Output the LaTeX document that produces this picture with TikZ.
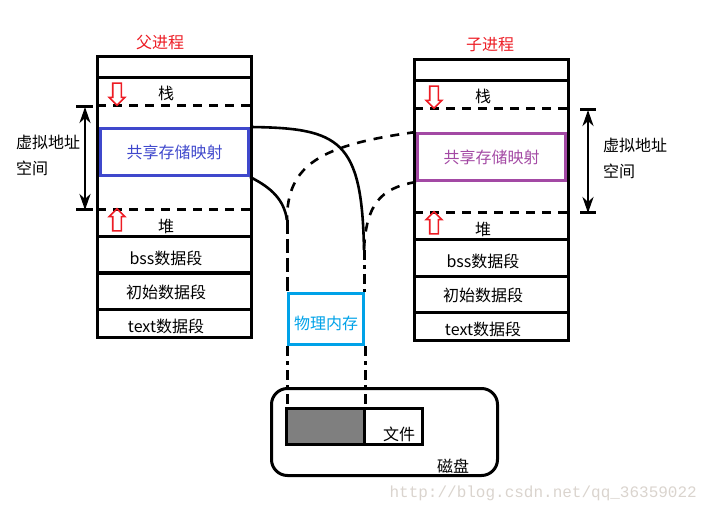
\documentclass[tikz,border=0pt]{standalone}
\usepackage{fontspec}
\setmainfont{Noto Sans CJK SC}
\newfontfamily\markfont{Liberation Mono}
\usetikzlibrary{arrows.meta,shapes.arrows}
\definecolor{shmblue}{RGB}{63,72,204}
\definecolor{shmpurple}{RGB}{163,73,164}
\definecolor{memcyan}{RGB}{0,162,232}
\definecolor{growred}{RGB}{237,28,36}
\definecolor{wmgray}{RGB}{218,212,206}
\definecolor{diskgray}{RGB}{127,127,127}

\begin{document}
\begin{tikzpicture}[x=1pt, y=-1pt, font=\fontsize{16}{19}\selectfont,
	seg/.style={line width=3pt},
	gapline/.style={line width=3pt, dash pattern=on 9pt off 7pt},
	maplink/.style={line width=2.6pt},
	dashlink/.style={line width=2.6pt, dash pattern=on 9pt off 8pt},
	longdash/.style={line width=3pt, dash pattern=on 14pt off 5pt},
	dashdot/.style={line width=3pt, dash pattern=on 10pt off 5pt on 4pt off 5pt},
	shm/.style={draw, line width=3pt, minimum width=148pt, minimum height=47pt, inner sep=0pt},
	growarrow/.style={single arrow, draw=growred, line width=1.6pt, inner sep=3.5pt, minimum height=22pt, single arrow head extend=3.5pt},
	spanarrow/.style={line width=2.5pt, {Stealth[length=16pt,width=11pt,inset=5pt]}-{Stealth[length=16pt,width=11pt,inset=5pt]}},
	vlabel/.style={align=left, inner sep=0pt, anchor=west, font=\fontsize{16}{26}\selectfont}]

\useasboundingbox (0,0) rectangle (707,513);

\foreach \p/\dx/\dy in {l/0/0, r/317/3}{
	\begin{scope}[shift={(\dx,\dy)}]
		\draw[seg] (97,57) rectangle (251,337);
		\foreach \y in {78,237,273,309} \draw[seg] (97,\y) -- (251,\y);
		\foreach \y in {106,210} \draw[gapline] (97,\y) -- (251,\y);
		\node (\p stack) at (166,93) {栈};
		\node (\p heap) at (166,226) {堆};
		\node (\p bss) at (166,258) {bss数据段};
		\node (\p data) at (166,292) {初始数据段};
		\node (\p text) at (166,326) {text数据段};
		\node[growarrow, shape border rotate=270] (\p down) at (117,92) {};
		\node[growarrow, shape border rotate=90] (\p up) at (117,222) {};
	\end{scope}
}

\node[text=growred] (ltitle) at (160,43) {父进程};
\node[text=growred] (rtitle) at (490,45) {子进程};

\node[shm, draw=shmblue, text=shmblue] (lshm) at (174.5,152) {共享存储映射};
\node[shm, draw=shmpurple, text=shmpurple] (rshm) at (491.5,157) {共享存储映射};

\coordinate (lvtop) at (85,107);
\coordinate (lvbot) at (85,210);
\draw[seg] (lvtop) ++(-9,0) -- ++(17,0);
\draw[seg] (lvbot) ++(-9,0) -- ++(17,0);
\draw[spanarrow] (lvtop) -- (lvbot);
\node[vlabel] (lvlabel) at (16,155) {虚拟地址\\空间};

\coordinate (rvtop) at (588,110);
\coordinate (rvbot) at (588,213);
\draw[seg] (rvtop) ++(-8,0) -- ++(16,0);
\draw[seg] (rvbot) ++(-8,0) -- ++(16,0);
\draw[spanarrow] (rvtop) -- (rvbot);
\node[vlabel] (rvlabel) at (603,158) {虚拟地址\\空间};

\node[draw=memcyan, seg, minimum width=75pt, minimum height=51pt, inner sep=0pt] (mem) at (326,319) {};
\node[text=memcyan] (memlabel) at (326,323) {物理内存};

\node[draw, seg, rounded corners=16pt, minimum width=226pt, minimum height=87pt] (disk) at (384.5,432) {};
\node (disklabel) at (453,466) {磁盘};
\node[draw, seg, fill=diskgray, minimum width=78pt, minimum height=36pt, inner sep=0pt] (fmap) at (325.5,426) {};
\node[draw, seg, minimum width=58pt, minimum height=36pt, inner sep=0pt] (file) at (393.5,426) {};
\node (filelabel) at (399,434) {文件};

\coordinate (ljoin) at (287,220);
\coordinate (rjoin) at (364,250);

\draw[maplink] (lshm.north east) .. controls (340,128) and (362,140) .. (rjoin);
\draw[maplink] (lshm.south east) .. controls (272,188) and (284,200) .. (ljoin);
\draw[dashlink] (rshm.north west) .. controls (320,145) and (287,165) .. (ljoin);
\draw[dashlink] (rshm.south west) .. controls (380,188) and (366,205) .. (rjoin);

\draw[longdash] (ljoin) -- (ljoin |- mem.north);
\draw[dashdot] (rjoin) -- (rjoin |- mem.north);
\draw[dashdot] (mem.south west) -- (mem.south west |- fmap.north);
\draw[dashdot] (mem.south east) -- (mem.south east |- fmap.north);

\node[text=wmgray, font=\markfont\fontsize{16}{16}\selectfont, anchor=east, inner sep=0pt] (wmark) at (697,493) {http://blog.csdn.net/qq\_36359022};

\end{tikzpicture}
\end{document}
